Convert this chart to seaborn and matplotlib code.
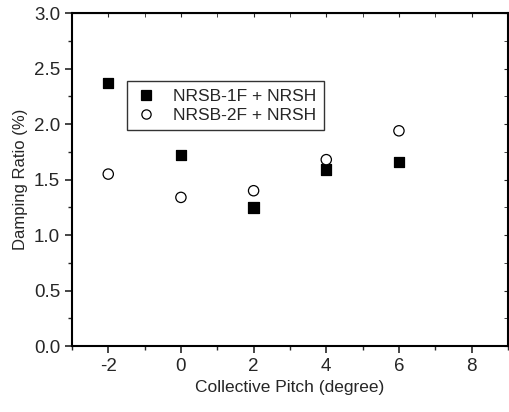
import matplotlib
matplotlib.use("Agg")
import matplotlib.pyplot as plt
import seaborn as sns
import pandas as pd

pitch = [-2, 0, 2, 4, 6]
nrsb_1f = [2.37, 1.72, 1.25, 1.59, 1.66]
nrsb_2f = [1.55, 1.34, 1.40, 1.68, 1.94]
labels = ["NRSB-1F + NRSH", "NRSB-2F + NRSH"]

df = pd.DataFrame({
    "pitch": pitch * 2,
    "ratio": nrsb_1f + nrsb_2f,
    "series": [labels[0]] * 5 + [labels[1]] * 5,
})

sns.set_style("ticks")
plt.rcParams["font.family"] = ["Liberation Sans", "DejaVu Sans"]
plt.rcParams["axes.unicode_minus"] = False

fig = plt.figure(figsize=(5.1, 4.12), dpi=100)
ax = fig.add_axes([0.141, 0.160, 0.855, 0.808])

sns.scatterplot(data=df, x="pitch", y="ratio", hue="series", style="series",
                markers={labels[0]: "s", labels[1]: "o"},
                palette={labels[0]: "black", labels[1]: "white"},
                edgecolor="black", linewidth=0.9, s=55, ax=ax)

ax.set_xlim(-3, 9)
ax.set_ylim(0, 3.0)
ax.set_xticks([-2, 0, 2, 4, 6, 8])
ax.set_yticks([0.0, 0.5, 1.0, 1.5, 2.0, 2.5, 3.0])
ax.set_yticklabels(["0.0", "0.5", "1.0", "1.5", "2.0", "2.5", "3.0"])
ax.set_xticks([-3, -1, 1, 3, 5, 7, 9], minor=True)
ax.set_yticks([0.25, 0.75, 1.25, 1.75, 2.25, 2.75], minor=True)
ax.tick_params(which="major", direction="out", length=5, width=1.2, labelsize=13.5)
ax.tick_params(which="minor", direction="out", length=3, width=1)
for s in ax.spines.values():
    s.set_linewidth(1.5)
    s.set_color("black")

# small mirrored ticks on top and right, like the original
top = ax.secondary_xaxis("top")
top.set_xticks([-2, 0, 2, 4, 6, 8])
top.set_xticks([-3, -1, 1, 3, 5, 7, 9], minor=True)
top.tick_params(which="both", direction="in", length=3, labeltop=False)
right = ax.secondary_yaxis("right")
right.set_yticks([0.0, 0.5, 1.0, 1.5, 2.0, 2.5, 3.0])
right.set_yticks([0.25, 0.75, 1.25, 1.75, 2.25, 2.75], minor=True)
right.tick_params(which="both", direction="in", length=3, labelright=False)

ax.set_xlabel("Collective Pitch (degree)", fontsize=12.5)
ax.set_ylabel("Damping Ratio (%)", fontsize=12)

leg = ax.legend(loc="upper left", bbox_to_anchor=(0.126, 0.796), borderaxespad=0,
                fontsize=12.5, frameon=True, fancybox=False, edgecolor="black",
                borderpad=0.45, handlelength=1.3, handletextpad=0.9,
                labelspacing=0.2, markerscale=0.9)
leg.get_frame().set_linewidth(1.0)

fig.savefig("out.png", dpi=100)
